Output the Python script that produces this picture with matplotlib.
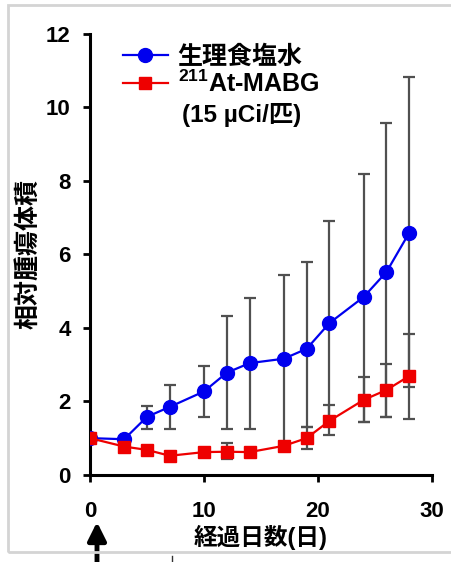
import matplotlib
matplotlib.use("Agg")
import matplotlib.pyplot as plt
from matplotlib.lines import Line2D
from matplotlib.patches import Rectangle
import numpy as np

plt.rcParams['font.family'] = ['Liberation Sans', 'Noto Sans CJK JP']
plt.rcParams['font.weight'] = 'bold'
plt.rcParams['mathtext.fontset'] = 'custom'
plt.rcParams['mathtext.rm'] = 'Liberation Sans:bold'
plt.rcParams['mathtext.bf'] = 'Liberation Sans:bold'

# days after treatment
days = [0, 3, 5, 7, 10, 12, 14, 17, 19, 21, 24, 26, 28]

# saline group
saline = [1.0, 0.97, 1.58, 1.85, 2.27, 2.78, 3.04, 3.16, 3.43, 4.13, 4.84, 5.52, 6.59]
saline_lo = [1.0, 0.97, 1.25, 1.25, 1.58, 1.25, 1.25, 0.9, 1.3, 1.35, 1.44, 1.57, 1.52]
saline_hi = [1.0, 0.97, 1.88, 2.45, 2.97, 4.33, 4.80, 5.43, 5.80, 6.90, 8.19, 9.57, 10.83]

# 211At-MABG group
mabg = [1.0, 0.77, 0.68, 0.52, 0.62, 0.63, 0.62, 0.79, 1.0, 1.47, 2.04, 2.31, 2.69]
mabg_lo = [1.0, 0.77, 0.68, 0.52, 0.62, 0.43, 0.62, 0.79, 0.70, 1.09, 1.44, 1.57, 2.40]
mabg_hi = [1.0, 0.77, 0.68, 0.52, 0.62, 0.87, 0.62, 0.79, 1.31, 1.90, 2.67, 3.02, 3.84]

xticks = [0, 10, 20, 30]
yticks = [0, 2, 4, 6, 8, 10, 12]


def err(vals, lo, hi):
    v = np.array(vals)
    return [v - np.array(lo), np.array(hi) - v]


fig = plt.figure(figsize=(4.52, 5.62), dpi=100)
ax = fig.add_axes([0.199, 0.155, 0.757, 0.785])

# light frame round the figure
fig.patches.append(Rectangle((0.0177, 0.0178), 1.1, 0.973, transform=fig.transFigure,
                             fill=False, edgecolor='#d4d4d4', lw=2))

ekw = dict(fmt='none', ecolor='#505050', elinewidth=1.6, capsize=4, capthick=1.6)
ax.errorbar(days, saline, yerr=err(saline, saline_lo, saline_hi), zorder=1, **ekw)
ax.errorbar(days, mabg, yerr=err(mabg, mabg_lo, mabg_hi), zorder=1, **ekw)

ax.plot(days, saline, color='#0000ee', marker='o', markersize=10, lw=1.6, zorder=3)
ax.plot(days, mabg, color='#ee0000', marker='s', markersize=9, lw=1.6, zorder=4)

ax.set_xlim(0, 30)
ax.set_ylim(0, 12)
ax.set_xticks(xticks)
ax.set_yticks(yticks)
ax.tick_params(labelsize=16, width=2, length=5, direction='out')
ax.tick_params(axis='x', pad=14)
ax.tick_params(axis='y', pad=9)
for s in ['top', 'right']:
    ax.spines[s].set_visible(False)
for s in ['left', 'bottom']:
    ax.spines[s].set_linewidth(2.2)

ax.set_xlabel('経過日数(日)', fontsize=17, fontweight='bold', labelpad=2)
ax.set_ylabel('相対腫瘍体積', fontsize=18, fontweight='bold', labelpad=4)

handles = [
    Line2D([], [], color='#0000ee', marker='o', markersize=10, lw=1.6),
    Line2D([], [], color='#ee0000', marker='s', markersize=9, lw=1.6),
]
labels = ['生理食塩水', '$^{211}$At-MABG']
leg = ax.legend(handles, labels, loc='upper left', bbox_to_anchor=(0.03, 1.025),
                frameon=False, prop={'size': 18, 'weight': 'bold'},
                handlelength=1.8, handletextpad=0.4, labelspacing=0.05)
ax.text(0.27, 0.815, '(15 µCi/匹)', transform=ax.transAxes, fontsize=17.5,
        fontweight='bold', ha='left', va='center')

# arrow marking the dose day
ax.annotate('', xy=(97 / 452, 1 - 522 / 562), xytext=(97 / 452, -0.01),
            xycoords='figure fraction', textcoords='figure fraction',
            arrowprops=dict(arrowstyle='-|>,head_width=0.55,head_length=1.1',
                            color='black', lw=3.5, shrinkA=0, shrinkB=0))
fig.add_artist(Line2D([172 / 452, 172 / 452], [0, 0.01], color='#333333', lw=1))

fig.savefig('out.png', dpi=100)
